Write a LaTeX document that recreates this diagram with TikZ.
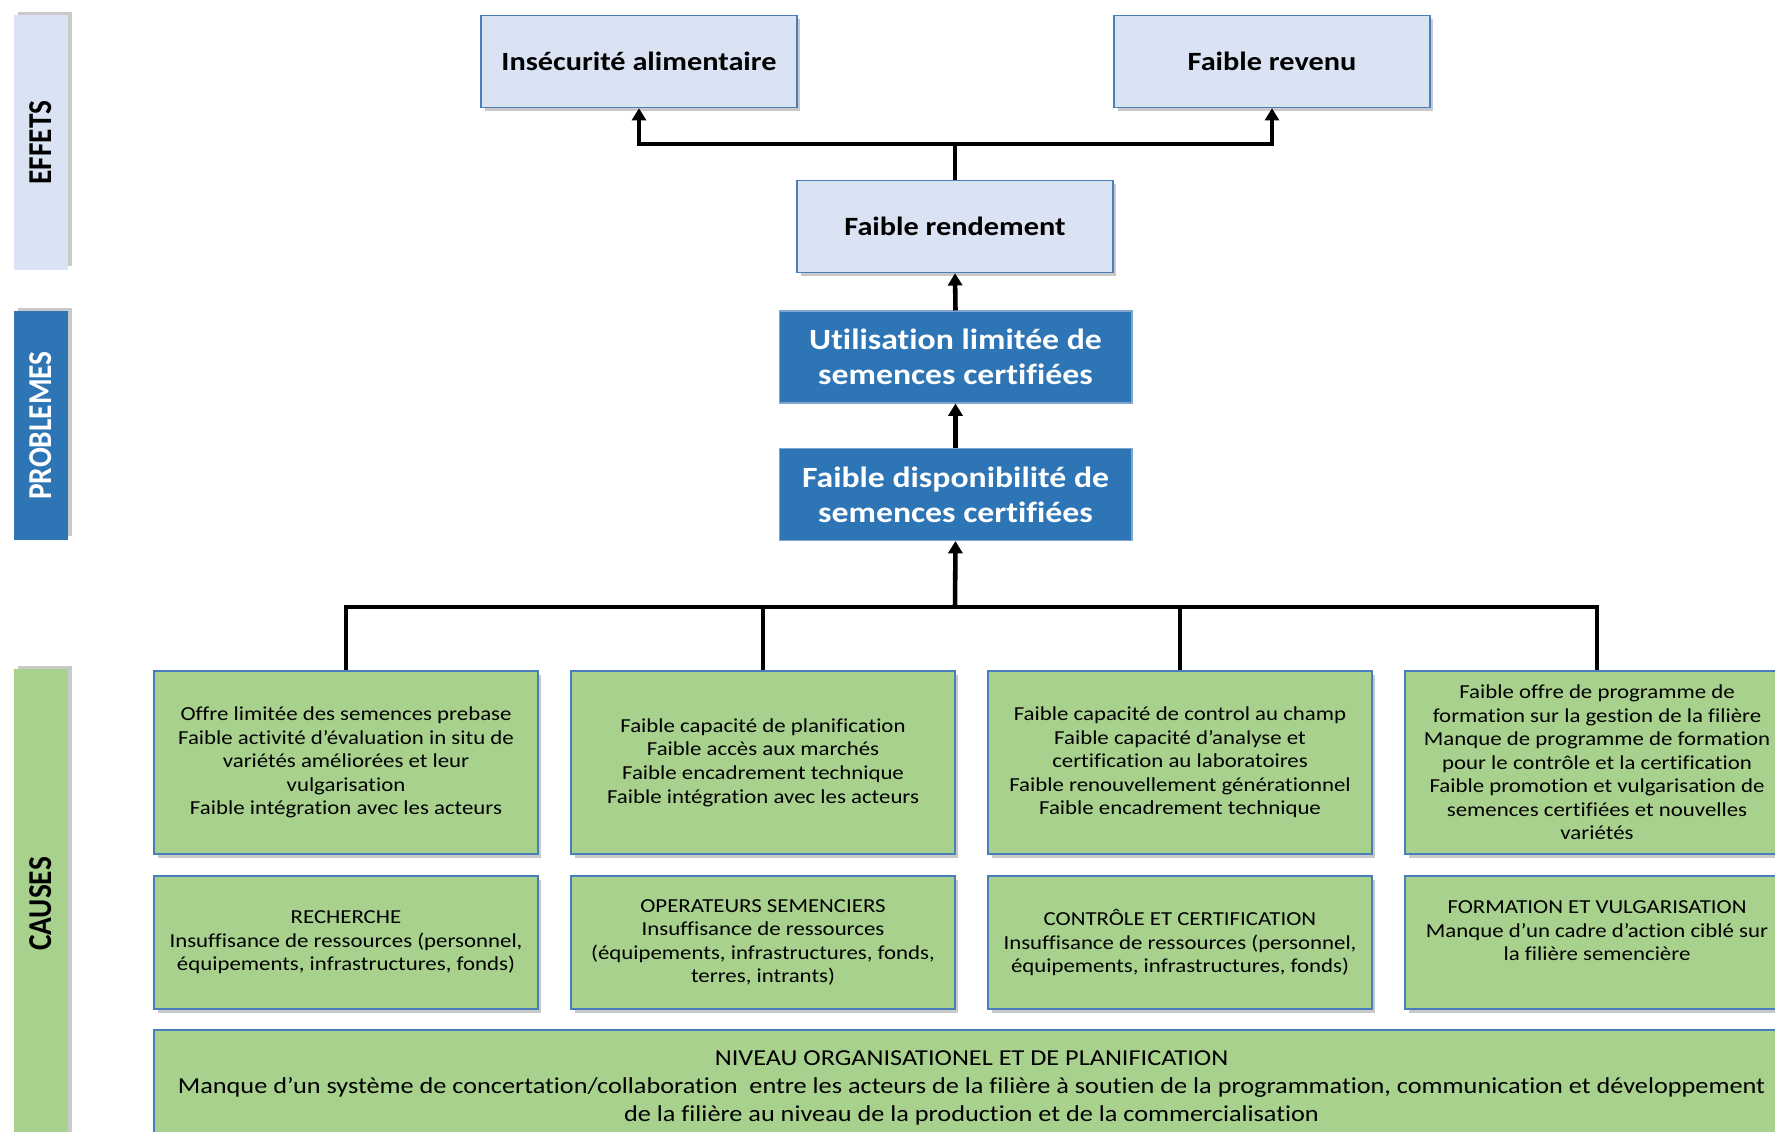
\documentclass[tikz,border=0pt]{standalone}
\usepackage{fontspec}
\setmainfont{Carlito}[FakeStretch=1.15,Ligatures=NoCommon]
\newfontfamily\barrefont{Carlito}[FakeStretch=0.88]
\usepackage{xcolor}
\usepackage{tikz}
\usetikzlibrary{arrows.meta,shadows}
\definecolor{effetbleu}{HTML}{DAE3F3}
\definecolor{problemebleu}{HTML}{2E75B6}
\definecolor{causevert}{HTML}{A9D18E}
\definecolor{bordbleu}{HTML}{4A7EBB}
\begin{document}
\begin{tikzpicture}[x=0.02cm,y=-0.02cm,
    ombre/.style={drop shadow={shadow xshift=2pt,shadow yshift=-2pt,opacity=0.35,fill=black!60}},
    effet/.style={draw=bordbleu,line width=0.8pt,fill=effetbleu,minimum width=6.32cm,minimum height=1.84cm,
      align=center,font=\fontsize{15}{18}\selectfont\bfseries,ombre},
    probleme/.style={draw=bordbleu!70,line width=0.6pt,fill=problemebleu,text=white,minimum width=7.06cm,
      minimum height=1.84cm,align=center,font=\fontsize{16.7}{19.8}\selectfont\bfseries},
    cause/.style={draw=bordbleu,line width=0.8pt,fill=causevert,minimum width=7.68cm,align=center,
      font=\fontsize{11.3}{13.4}\selectfont,ombre},
    barre/.style={rotate=90,minimum height=1.08cm,font=\barrefont\fontsize{19}{22}\selectfont\bfseries,
      drop shadow={shadow xshift=2pt,shadow yshift=2pt,opacity=0.35,fill=black!60}},
    fleche/.style={line width=2.6pt,-{Triangle[width=8pt,length=7pt]}},
    trait/.style={line width=2.4pt}]
      \useasboundingbox (0,0) rectangle (1775,1132);
      \fill [white] (0,0) rectangle (1775,1132);
      \clip (0,0) rectangle (1775,1132);
      \node [barre,fill=effetbleu,minimum width=5.1cm] (effets) at (41,142.5) {EFFETS};
      \node [barre,fill=problemebleu,text=white,minimum width=4.58cm] (problemes) at (41,425.5) {PROBLEMES};
      \node [barre,fill=causevert,minimum width=9.4cm] (causes) at (41,904) {CAUSES};
      \node [effet] (insecurite) at (639,61.5) {Insécurité alimentaire};
      \node [effet] (revenu) at (1272,61.5) {Faible revenu};
      \node [effet] (rendement) at (955,226.5) {Faible rendement};
      \node [probleme] (utilisation) at (955.5,357) {Utilisation limitée de\\semences certifiées};
      \node [probleme] (disponibilite) at (955.5,494.5) {Faible disponibilité de\\semences certifiées};
      \node [cause,minimum height=3.66cm] (cause1) at (346,762.5) {Offre limitée des semences prebase\\Faible activité d’évaluation in situ de\\variétés améliorées et leur\\vulgarisation\\Faible intégration avec les acteurs};
      \node [cause,minimum height=3.66cm] (cause2) at (763,762.5) {Faible capacité de planification\\Faible accès aux marchés\\Faible encadrement technique\\Faible intégration avec les acteurs};
      \node [cause,minimum height=3.66cm] (cause3) at (1180,762.5) {Faible capacité de control au champ\\Faible capacité d’analyse et\\certification au laboratoires\\Faible renouvellement générationnel\\Faible encadrement technique};
      \node [cause,minimum height=3.66cm] (cause4) at (1597,762.5) {Faible offre de programme de\\formation sur la gestion de la filière\\Manque de programme de formation\\pour le contrôle et la certification\\Faible promotion et vulgarisation de\\semences certifiées et nouvelles\\variétés};
      \node [cause,minimum height=2.66cm] (acteur1) at (346,942.5) {RECHERCHE\\Insuffisance de ressources (personnel,\\équipements, infrastructures, fonds)};
      \node [cause,minimum height=2.66cm] (acteur2) at (763,942.5) {OPERATEURS SEMENCIERS\\Insuffisance de ressources\\(équipements, infrastructures, fonds,\\terres, intrants)};
      \node [cause,minimum height=2.66cm] (acteur3) at (1180,942.5) {CONTRÔLE ET CERTIFICATION\\Insuffisance de ressources (personnel,\\équipements, infrastructures, fonds)};
      \node [cause,minimum height=2.66cm] (acteur4) at (1597,942.5) {FORMATION ET VULGARISATION\\Manque d’un cadre d’action ciblé sur\\la filière semencière\\\mbox{}};
      \node [cause,minimum width=32.7cm,minimum height=2.32cm,font=\fontsize{13}{15.7}\selectfont] (niveau) at (971.5,1088) {NIVEAU ORGANISATIONEL ET DE PLANIFICATION\\Manque d’un système de concertation/collaboration\ \ entre les acteurs de la filière à soutien de la programmation, communication et développement\\de la filière au niveau de la production et de la commercialisation};
      \coordinate (haut) at (955,144);
      \coordinate (bas) at (955,607);
      \draw [trait] (rendement.north) -- (haut);
      \draw [fleche] (haut) -| (insecurite.south);
      \draw [fleche] (haut) -| (revenu.south);
      \draw [fleche] (utilisation.north) -- (rendement.south);
      \draw [fleche] (disponibilite.north) -- (utilisation.south);
      \draw [fleche] (bas) -- (disponibilite.south);
      \draw [trait] (cause1.north) |- (bas);
      \draw [trait] (cause2.north) |- (bas);
      \draw [trait] (cause3.north) |- (bas);
      \draw [trait] (cause4.north) |- (bas);
    \end{tikzpicture}
\end{document}
